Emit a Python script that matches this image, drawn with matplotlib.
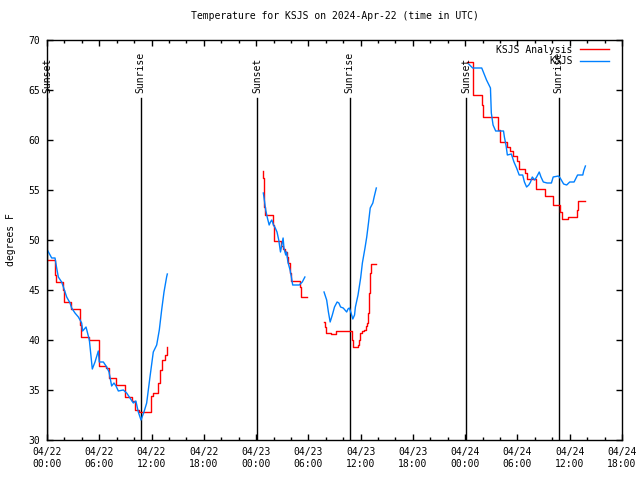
import numpy as np
import matplotlib
matplotlib.use("Agg")
import matplotlib.pyplot as plt
from matplotlib.ticker import MultipleLocator, FixedLocator

plt.rcParams['font.family'] = ['DejaVu Sans Mono']

# hours since 2024-04-22 00:00 UTC ; NaN breaks the line
obs_hours = [0.04, 0.54, 0.92, 1.11, 1.3, 1.68, 1.88, 2.26, 2.64, 2.83, 3.21, 3.6, 3.98, 4.09, 4.48,
             4.86, 5.01, 5.2, 5.51, 5.89, 6.0, 6.47, 6.85, 7.12, 7.42, 7.69, 7.92, 8.19, 8.76, 9.14,
             9.53, 9.91, 10.2, 10.48, 10.79, 11.13, 11.44, 11.82, 12.2, 12.59, 12.89, 13.16, 13.43,
             13.73, 13.81, np.nan,
             24.83, 24.9, 25.1, 25.3, 25.5, 25.65, 25.8, 26.0, 26.2, 26.4, 26.6, 26.8, 26.95, 27.1,
             27.2, 27.4, 27.5, 27.65, 27.9, 28.05, 28.2, 28.96, 29.3, 29.6, np.nan,
             31.8, 32.1, 32.3, 32.5, 32.75, 33.0, 33.3, 33.5, 33.7, 34.0, 34.2, 34.4, 34.55, 34.7,
             34.9, 35.1, 35.3, 35.4, 35.7, 36.0, 36.2, 36.5, 36.7, 36.9, 37.1, 37.4, 37.55, 37.8, np.nan,
             48.4, 48.86, 49.9, 50.45, 50.9, 51.0, 51.2, 51.5, 52.07, 52.4, 52.5, 52.7, 52.84, 53.3,
             53.6, 53.9, 54.2, 54.6, 54.8, 55.05, 55.3, 55.5, 55.7, 55.97, 56.2, 56.5, 56.7, 56.97,
             57.4, 57.9, 58.1, 58.7, 58.9, 59.3, 59.65, 60.0, 60.5, 60.9, 61.5, 61.6, 61.8]
obs_temps = [49.0, 48.2, 48.2, 47.2, 46.3, 45.8, 45.3, 44.3, 43.7, 43.2, 42.7, 42.3, 41.7, 40.9, 41.3,
             40.0, 38.7, 37.1, 37.8, 38.9, 37.8, 37.8, 37.3, 36.8, 35.4, 35.7, 35.4, 34.9, 35.0, 34.7,
             34.2, 33.7, 33.9, 32.8, 32.0, 32.8, 33.7, 36.3, 38.8, 39.5, 41.0, 43.0, 44.8,
             46.3, 46.6, np.nan,
             54.7, 54.3, 53.0, 52.2, 51.5, 51.8, 52.0, 51.5, 51.2, 50.8, 50.0, 48.8, 49.5, 50.2,
             49.2, 48.5, 48.8, 47.8, 47.0, 46.3, 45.5, 45.5, 45.8, 46.3, np.nan,
             44.8, 44.0, 42.8, 41.8, 42.5, 43.3, 43.8, 43.7, 43.3, 43.2, 43.0, 42.8, 43.1, 43.2,
             42.7, 42.1, 42.5, 43.3, 44.5, 46.2, 47.7, 49.2, 50.3, 51.7, 53.2, 53.7, 54.3, 55.2, np.nan,
             67.6, 67.2, 67.2, 66.0, 65.2, 62.7, 61.5, 60.9, 60.9, 60.9, 60.3, 59.4, 58.5, 58.6,
             57.8, 57.2, 56.5, 56.5, 55.8, 55.3, 55.5, 55.8, 56.3, 56.0, 56.3, 56.8, 56.3, 55.8,
             55.7, 55.7, 56.3, 56.4, 56.2, 55.6, 55.5, 55.8, 55.8, 56.5, 56.5, 56.9, 57.4]

ana_hours = [0.0, 0.9, 1.0, 1.8, 2.0, 2.8, 3.8, 3.9, 4.8, 6.0, 6.8, 7.1, 7.9, 8.9, 9.7, 10.1, 10.6,
             11.9, 12.2, 12.7, 12.95, 13.2, 13.5, 13.75, 13.81, np.nan,
             24.8, 24.85, 24.9, 24.95, 25.0, 25.9, 26.1, 26.9, 27.1, 27.3, 27.5, 27.7, 27.85, 28.0,
             29.0, 29.15, 29.8, np.nan,
             31.8, 31.9, 32.0, 32.6, 33.2, 35.0, 35.1, 35.7, 35.85, 35.95, 36.1, 36.4, 36.6, 36.75,
             36.85, 36.95, 37.05, 37.15, 37.8, np.nan,
             48.2, 48.9, 49.9, 50.1, 51.8, 52.0, 52.76, 53.1, 53.5, 53.9, 54.2, 54.87, 55.1, 56.1,
             57.2, 58.1, 58.9, 59.1, 59.84, 60.8, 61.0, 61.8]
ana_temps = [48.0, 46.5, 45.8, 45.0, 43.8, 43.1, 41.5, 40.3, 40.0, 37.4, 37.2, 36.2, 35.5, 34.3, 33.9,
             33.0, 32.8, 34.4, 34.7, 35.7, 37.0, 38.0, 38.5, 39.3, 39.3, np.nan,
             56.9, 56.2, 54.7, 53.3, 52.5, 51.5, 49.9, 49.4, 49.1, 48.8, 48.3, 47.7, 46.7, 45.9,
             45.3, 44.3, 44.3, np.nan,
             41.8, 41.3, 40.7, 40.6, 40.9, 40.0, 39.3, 39.5, 40.0, 40.7, 40.9, 41.0, 41.4, 41.7,
             42.7, 44.7, 46.7, 47.6, 47.6, np.nan,
             67.8, 64.5, 63.5, 62.3, 61.0, 59.8, 59.3, 58.9, 58.4, 57.9, 57.1, 56.7, 56.1, 55.1,
             54.4, 53.5, 52.8, 52.07, 52.3, 53.0, 53.9, 53.9]

sun_events = ["Sunset", "Sunrise", "Sunset", "Sunrise", "Sunset", "Sunrise"]
sun_hours = [0.05, 10.75, 24.1, 34.75, 48.1, 58.75]

tick_hours = [0, 6, 12, 18, 24, 30, 36, 42, 48, 54, 60, 66]
tick_labels = ["04/22\n00:00", "04/22\n06:00", "04/22\n12:00", "04/22\n18:00",
               "04/23\n00:00", "04/23\n06:00", "04/23\n12:00", "04/23\n18:00",
               "04/24\n00:00", "04/24\n06:00", "04/24\n12:00", "04/24\n18:00"]

fig = plt.figure(figsize=(6.4, 4.8), dpi=100)
ax = fig.add_axes([47/640, 40/480, 575/640, 400/480])
ax.set_xlim(0, 66)
ax.set_ylim(30, 70)

for h, name in zip(sun_hours, sun_events):
    ax.axvline(h, ymin=0, ymax=0.855, color='black', lw=1.0)
    ax.text(h, 64.7, name, rotation=90, ha='center', va='bottom', fontsize=7)

ax.plot(ana_hours, ana_temps, color='#ff0000', lw=1.0, drawstyle='steps-post',
        label='KSJS Analysis')
ax.plot(obs_hours, obs_temps, color='#0080ff', lw=1.0, label='KSJS')

ax.xaxis.set_major_locator(FixedLocator(tick_hours))
ax.set_xticklabels(tick_labels)
ax.xaxis.set_minor_locator(MultipleLocator(2))
ax.yaxis.set_major_locator(MultipleLocator(5))
ax.tick_params(which='major', direction='in', length=4, width=1, top=True, right=True,
               labelsize=7, pad=5)
ax.tick_params(which='minor', direction='in', length=2.5, width=1, top=True, right=True)
for s in ax.spines.values():
    s.set_linewidth(1.0)

ax.set_ylabel("degrees F", fontsize=7, labelpad=9)
ax.set_title("Temperature for KSJS on 2024-Apr-22 (time in UTC)", fontsize=7, pad=15)

leg = ax.legend(loc='upper right', frameon=False, markerfirst=False, fontsize=7,
                handlelength=2.9, handletextpad=0.8, borderaxespad=0.1,
                labelspacing=0.15, bbox_to_anchor=(0.985, 1.0))

fig.savefig("out.png", dpi=100)
